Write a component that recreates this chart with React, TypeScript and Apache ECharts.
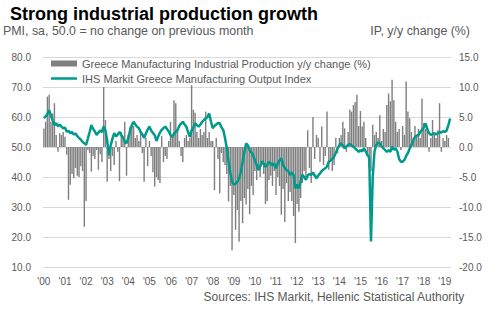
import { useEffect, useRef } from "react";
import * as echarts from "echarts";

const TITLE = "Strong industrial production growth";
const LEFT_AXIS_TITLE = "PMI, sa, 50.0 = no change on previous month";
const RIGHT_AXIS_TITLE = "IP, y/y change (%)";
const SOURCE = "Sources: IHS Markit, Hellenic Statistical Authority";
const BAR_NAME = "Greece Manufacturing Industrial Production y/y change (%)";
const LINE_NAME = "IHS Markit Greece Manufacturing Output Index";

const years = [2000, 2001, 2002, 2003, 2004, 2005, 2006, 2007, 2008, 2009, 2010, 2011, 2012, 2013, 2014, 2015, 2016, 2017, 2018, 2019];
const monthsInLastYear = 4;

// IHS Markit Greece Manufacturing Output Index (left axis), monthly from Jan 2000
const outputIndex = [
  59.6, 60.2, 61.0, 62.3, 60.5, 58.8, 57.3, 58.0, 56.9, 57.5, 56.8, 56.2,
  56.5, 55.1, 55.4, 54.6, 55.0, 54.2, 54.5, 53.6, 53.0, 52.5, 51.7, 51.2,
  50.7, 52.8, 55.0, 57.3, 56.0, 55.2, 54.0, 54.8, 55.5, 55.0, 56.8, 55.5,
  52.0, 47.3, 50.5, 52.8, 54.6, 53.5, 54.2, 55.0, 54.0, 53.2, 51.7, 51.3,
  53.0, 55.5, 57.2, 58.4, 57.5, 56.8, 56.3, 55.0, 54.2, 53.0, 54.5, 55.8,
  56.8, 55.5, 54.7, 54.0, 52.0, 53.5, 54.8, 55.7, 56.3, 56.8, 56.0, 55.2,
  54.0, 53.4, 54.5, 55.0, 55.7, 57.0, 57.8, 58.4, 57.5, 56.8, 55.0, 53.4,
  55.5, 56.5, 57.9, 57.3, 56.8, 57.5, 58.4, 59.0, 59.5, 60.0, 61.2, 58.5,
  56.3, 57.0, 57.5, 58.0, 57.9, 56.5, 55.7, 53.0, 49.6, 45.0, 41.5, 38.4,
  37.5, 37.8, 38.4, 39.5, 41.7, 45.0, 48.4, 51.2, 50.5, 49.0, 48.2, 47.3,
  45.5, 44.0, 42.3, 43.5, 45.2, 44.5, 43.4, 44.0, 45.0, 44.6, 43.8, 44.5,
  42.9, 44.5, 45.5, 46.2, 44.0, 43.0, 42.3, 42.0, 40.7, 41.5, 40.7, 36.2,
  37.5, 36.2, 38.5, 40.7, 40.0, 39.1, 40.5, 41.0, 40.7, 41.5, 40.5, 39.6,
  40.5, 41.2, 42.0, 42.5, 42.9, 43.5, 45.1, 45.5, 46.0, 46.8, 48.0, 49.6,
  50.5, 51.2, 50.5, 49.6, 50.2, 50.7, 51.0, 50.5, 50.1, 49.5, 49.0, 48.4,
  49.0, 48.5, 49.6, 48.5, 47.3, 46.5, 18.5, 40.0, 48.5, 50.7, 51.5, 51.2,
  50.2, 49.6, 49.0, 48.4, 49.0, 48.4, 50.1, 49.0, 49.6, 48.5, 46.0, 45.1,
  45.1, 45.7, 47.0, 48.0, 49.5, 50.7, 52.0, 53.4, 53.8, 54.0, 55.0, 55.7,
  56.5, 57.9, 56.0, 54.6, 54.0, 54.3, 54.6, 54.2, 54.6, 55.0, 54.8, 55.3,
  55.0, 55.5, 57.3, 59.5,
];

// Greece manufacturing industrial production, y/y % (right axis)
const ipYoY = [
  3.1, 4.2, 8.4, 8.7, 4.2, 5.6, 7.3, 2.0, -0.8, 2.3, 2.0, 2.5,
  1.7, -1.3, -8.8, -6.3, -4.5, -5.2, -3.5, -4.8, -5.0, -3.2, -4.0, -13.3,
  -9.0, -0.5, -1.0, -4.1, -1.5, -2.0, -0.5, -3.8, -1.2, -2.5, 10.0, 4.5,
  -5.8, -2.0, -4.0, -1.5, -3.0, 1.0, -0.8, -5.7, 2.5, 1.5, 4.2, -4.8,
  2.0, 3.4, 3.9, 3.5, 1.5, 2.0, 1.0, 2.5, -1.0, -5.8, 1.5, -3.2,
  1.0, -1.5, -4.2, -6.6, -5.0, -5.5, -6.0, 1.8, -2.5, -1.5, -2.0, 1.0,
  4.2, 2.0, 7.8, 7.3, 3.0, 1.0, -1.5, -2.5, 1.5, 2.0, 1.0, 1.5,
  10.3, 6.2, 5.7, 2.5, 1.5, 3.0, 2.0, 2.5, 5.9, 1.5, 2.5, 1.0,
  1.0, -7.2, 1.5, -2.0, -7.7, -1.0, -2.5, -3.0, -4.5, -9.1, -6.5, -17.2,
  -8.0, -13.8, -10.5, -15.8, -9.0, -12.7, -8.5, -9.6, -7.0, -11.2, -6.5, -8.0,
  -4.0, -5.5, -3.5, -5.0, -3.0, -4.5, -9.5, -9.0, -5.5, -4.8, -6.5, -4.0,
  -8.0, -5.0, -6.5, -11.3, -7.0, -12.5, -6.0, -9.0, -7.5, -9.0, -11.5, -16.0,
  -9.5, -10.8, -8.5, -6.0, -4.0, -5.5, 2.8, -3.5, -6.0, 5.0, -2.0, 2.0,
  1.5, -2.5, 3.4, -3.0, -1.5, 5.9, -3.8, -2.0, -4.0, -3.0, 1.5, -1.0,
  1.5, 2.0, 4.2, 3.1, -0.8, 2.5, 6.2, 5.9, 7.0, 7.5, 8.7, 3.5,
  6.0, 3.4, 4.2, 1.5, -1.0, -3.5, -4.0, 3.7, 2.0, 2.5, 1.5, 5.3,
  1.0, 3.0, 2.5, 7.0, 8.9, 7.6, 11.2, 7.8, 4.2, 2.5, 3.0, -0.5,
  3.5, 2.0, 10.9, 5.9, 4.8, 2.5, 1.5, 3.5, 2.0, 3.0, 1.5, 8.1,
  4.0, 3.0, 3.5, -0.8, 1.5, 4.5, 2.0, 1.5, 2.8, 7.3, -0.8, 1.5,
  1.0, 2.0, 1.5, null,
];

const leftAxis = { min: 10, max: 80, interval: 10 };
const rightAxis = { min: -20, max: 15, interval: 5 };

const categories: string[] = [];
years.forEach((y, yi) => {
  const n = yi === years.length - 1 ? monthsInLastYear : 12;
  for (let m = 1; m <= n; m++) categories.push(`${y}-${String(m).padStart(2, "0")}`);
});

const FONT = "'Liberation Sans', Arial, sans-serif";
const GREY_TEXT = "#595959";
const TEAL = "#009a8c";
const BAR_GREY = "#7f7f7f";

export default function App() {
  const ref = useRef<HTMLDivElement>(null);
  useEffect(() => {
    if (!ref.current) return;
    const chart = echarts.init(ref.current, undefined, { renderer: "svg" });
    chart.setOption({
      animation: false,
      backgroundColor: "#ffffff",
      textStyle: { fontFamily: FONT },
      title: {
        text: TITLE,
        left: 10,
        top: 5,
        padding: 0,
        textStyle: { fontSize: 18, fontWeight: "bold", color: "#000000", fontFamily: FONT },
      },
      graphic: [
        {
          type: "text",
          left: 3,
          top: 25,
          style: { text: LEFT_AXIS_TITLE, fontSize: 12.4, fill: GREY_TEXT, fontFamily: FONT },
        },
        {
          type: "text",
          right: 33,
          top: 25,
          style: { text: RIGHT_AXIS_TITLE, fontSize: 12.4, fill: GREY_TEXT, fontFamily: FONT },
        },
        {
          type: "text",
          right: 38,
          top: 291,
          style: { text: SOURCE, fontSize: 12, fill: GREY_TEXT, fontFamily: FONT },
        },
      ],
      legend: [
        {
          left: 51,
          top: 58,
          padding: 0,
          itemWidth: 26,
          itemHeight: 6,
          textStyle: { fontSize: 11, color: GREY_TEXT, fontFamily: FONT },
          data: [{ name: BAR_NAME, icon: "rect" }],
        },
        {
          left: 51,
          top: 73,
          padding: 0,
          itemWidth: 26,
          itemHeight: 2.5,
          textStyle: { fontSize: 11, color: GREY_TEXT, fontFamily: FONT },
          data: [{ name: LINE_NAME, icon: "rect" }],
        },
      ],
      grid: { left: 43, right: 52, top: 57, bottom: 55, containLabel: false },
      xAxis: {
        type: "category",
        data: categories,
        boundaryGap: true,
        axisLine: { show: false },
        axisTick: { show: false },
        axisLabel: {
          interval: (index: number) => index % 12 === 0,
          formatter: (v: string) => "'" + v.slice(2, 4),
          fontSize: 10,
          color: GREY_TEXT,
          margin: 9,
        },
      },
      yAxis: [
        {
          type: "value",
          position: "left",
          min: leftAxis.min,
          max: leftAxis.max,
          interval: leftAxis.interval,
          axisLine: { show: false },
          axisTick: { show: false },
          axisLabel: { fontSize: 10, color: GREY_TEXT, margin: 12, formatter: (v: number) => v.toFixed(1) },
          splitLine: { show: true, lineStyle: { color: "#d9d9d9", width: 1 } },
        },
        {
          type: "value",
          position: "right",
          min: rightAxis.min,
          max: rightAxis.max,
          interval: rightAxis.interval,
          axisLine: { show: false },
          axisTick: { show: false },
          axisLabel: { fontSize: 10, color: GREY_TEXT, margin: 8, formatter: (v: number) => v.toFixed(1) },
          splitLine: { show: false },
        },
      ],
      series: [
        {
          name: BAR_NAME,
          type: "bar",
          yAxisIndex: 1,
          data: ipYoY,
          barCategoryGap: "20%",
          itemStyle: { color: BAR_GREY },
        },
        {
          name: LINE_NAME,
          type: "line",
          yAxisIndex: 0,
          data: outputIndex,
          symbol: "none",
          lineStyle: { color: TEAL, width: 2.5 },
          itemStyle: { color: TEAL },
        },
      ],
    });
    return () => chart.dispose();
  }, []);
  return (
    <div
      ref={ref}
      style={{ position: "absolute", left: 0, top: 0, width: 503, height: 322, background: "#fff" }}
    />
  );
}
